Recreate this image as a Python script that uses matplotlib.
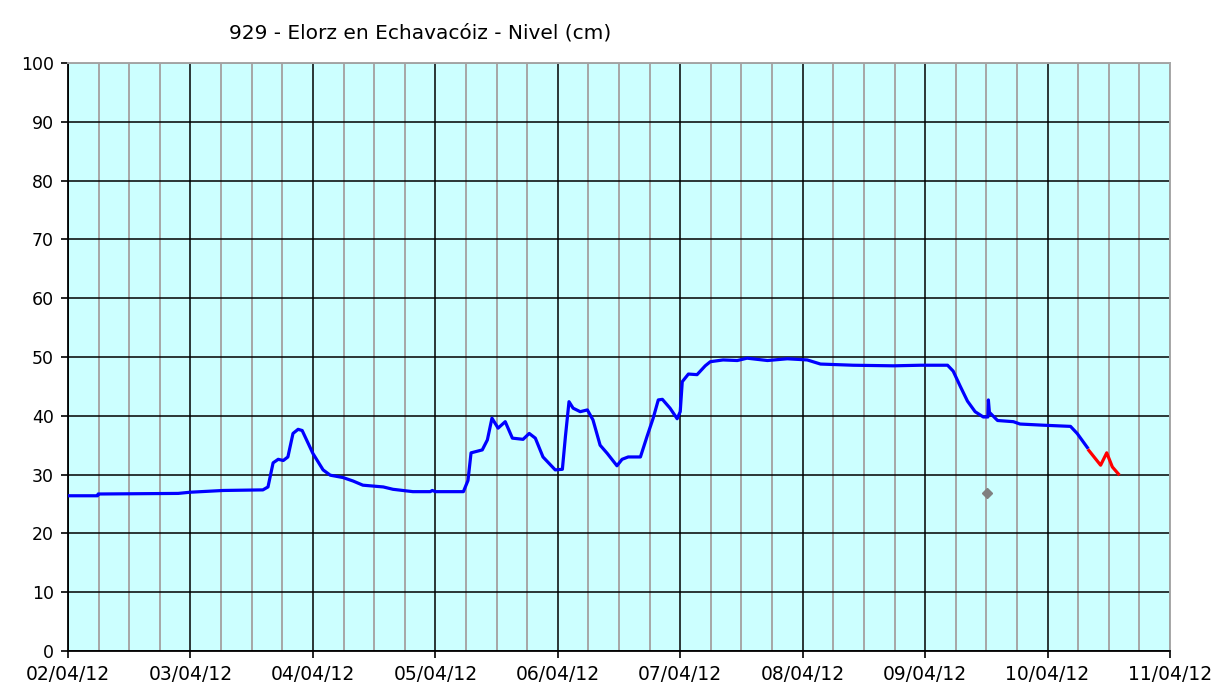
"""
929 - Elorz en Echavacóiz - Nivel (cm)
River level chart, 02/04/12 - 11/04/12
"""

import numpy as np
import matplotlib
matplotlib.use('Agg')
import matplotlib.pyplot as plt
import matplotlib.dates as mdates

# Data (hours after 02/04/12 00:00, level in cm)
START = np.datetime64('2012-04-02T00:00')
END = np.datetime64('2012-04-11T00:00')

BLUE_HOURS = [0, 5.8, 5.9, 21.6, 23.9, 30.4, 38.2, 39.2, 40.2, 41.2, 42.2, 43.1,
              44.1, 45.1, 45.9, 48.0, 50.0, 51.4, 53.9, 55.9, 57.8, 61.8, 63.7,
              67.6, 71.0, 71.4, 72.0, 77.5, 78.4, 79.0, 81.2, 82.2, 83.1, 84.3,
              85.7, 87.1, 89.2, 90.4, 91.6, 93.1, 95.5, 96.9, 97.5, 98.2, 99.0,
              100.4, 101.8, 102.9, 104.3, 105.7, 107.6, 108.6, 109.8, 112.2,
              113.5, 114.7, 115.7, 116.5, 118.0, 119.4, 120.0, 120.4, 121.6,
              123.3, 124.9, 125.9, 128.4, 131.2, 133.1, 137.1, 141.0, 144.9,
              147.5, 153.9, 161.8, 167.1, 172.4, 173.5, 174.9, 176.3, 177.8,
              179.4, 180.3, 180.4, 180.6, 182.2, 185.3, 186.6, 191.2, 196.5,
              197.8, 199.8]
BLUE_LEVEL = [26.4, 26.4, 26.7, 26.8, 27.0, 27.3, 27.4, 27.9, 32.0, 32.6, 32.4, 33.0,
              37.0, 37.7, 37.5, 33.6, 30.8, 29.9, 29.5, 28.9, 28.2, 27.9, 27.5,
              27.1, 27.1, 27.3, 27.1, 27.1, 29.0, 33.7, 34.2, 35.9, 39.6, 37.9,
              39.0, 36.2, 36.0, 37.0, 36.2, 33.0, 30.8, 30.9, 36.5, 42.4, 41.3,
              40.7, 41.0, 39.3, 35.0, 33.6, 31.5, 32.6, 33.0, 33.0,
              36.5, 39.6, 42.7, 42.8, 41.3, 39.5, 40.7, 45.8, 47.1,
              47.0, 48.5, 49.2, 49.5, 49.4, 49.8, 49.4, 49.7, 49.5,
              48.8, 48.6, 48.5, 48.6, 48.6, 47.6, 45.0, 42.5, 40.7,
              39.8, 39.8, 42.7, 40.6, 39.2, 39.0, 38.6, 38.4, 38.2,
              37.0, 34.6]

RED_HOURS = [200.1, 202.4, 203.6, 204.7, 205.9]
RED_LEVEL = [34.1, 31.6, 33.7, 31.3, 30.1]

MARK_HOURS = [180.2]
MARK_LEVEL = [26.8]

TITLE = '929 - Elorz en Echavacóiz - Nivel (cm)'
BACKGROUND = '#CCFFFF'


def to_time(hours):
    return START + (np.array(hours) * 60).astype(int).astype('timedelta64[m]')


def make_chart():
    fig = plt.figure(figsize=(12.28, 6.91), dpi=100)
    fig.patch.set_facecolor('white')
    ax = fig.add_axes([68 / 1228, 40 / 691, 1102 / 1228, 588 / 691])
    ax.set_facecolor(BACKGROUND)

    # Grid: black on days / every 10 cm, gray every 6 hours
    ax.xaxis.set_major_locator(mdates.DayLocator())
    ax.xaxis.set_minor_locator(mdates.HourLocator(byhour=[6, 12, 18]))
    ax.xaxis.set_major_formatter(mdates.DateFormatter('%d/%m/%y'))
    ax.set_yticks(np.arange(0, 101, 10))
    ax.grid(which='major', color='black', linewidth=1.1, zorder=1)
    ax.grid(which='minor', axis='x', color='#a6a6a6', linewidth=1.4, zorder=0.9)
    ax.set_axisbelow(True)

    ax.plot(to_time(BLUE_HOURS), BLUE_LEVEL, color='#0000FF', linewidth=2.3, zorder=3)
    ax.plot(to_time(RED_HOURS), RED_LEVEL, color='#FF0000', linewidth=2.3, zorder=3)
    ax.plot(to_time(MARK_HOURS), MARK_LEVEL, linestyle='none', marker='D',
            markersize=5, color='#808080', zorder=3)

    ax.set_xlim(START, END)
    ax.set_ylim(0, 100)

    for side in ['left', 'bottom']:
        ax.spines[side].set_color('black')
        ax.spines[side].set_linewidth(1.3)
    for side in ['top', 'right']:
        ax.spines[side].set_color('#a6a6a6')
        ax.spines[side].set_linewidth(1.4)

    ax.tick_params(which='major', direction='out', length=5, width=1.2,
                   colors='black', pad=5)
    ax.tick_params(axis='y', labelsize=12.5)
    ax.tick_params(axis='x', labelsize=13.5)
    ax.tick_params(which='minor', length=0)

    fig.text(0.342, 0.952, TITLE, ha='center', va='center', fontsize=14.5)

    fig.savefig('out.png', dpi=100, facecolor='white')


if __name__ == '__main__':
    make_chart()
